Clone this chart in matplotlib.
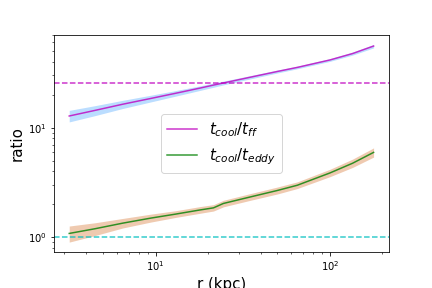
import matplotlib
matplotlib.use('Agg')
import matplotlib.pyplot as plt
import numpy as np

# radius (kpc)
r = [3.2, 4.5, 6.5, 9.4, 13.0, 18.0, 21.5, 24.5, 35.0, 50.0, 65.0, 100.0, 135.0, 178.0]

# t_cool / t_ff
ff = [12.8, 14.4, 16.4, 18.5, 20.6, 23.0, 24.5, 25.6, 28.9, 32.6, 35.5, 41.5, 47.5, 55.6]
ff_lo = [11.3, 12.9, 15.0, 17.2, 19.4, 21.9, 23.4, 24.6, 27.9, 31.6, 34.5, 40.3, 46.0, 53.5]
ff_hi = [14.4, 15.9, 17.8, 19.8, 21.8, 24.1, 25.6, 26.6, 29.9, 33.6, 36.5, 42.7, 49.0, 57.5]

# t_cool / t_eddy
ed = [1.087, 1.2, 1.35, 1.5, 1.63, 1.78, 1.86, 2.04, 2.34, 2.68, 2.99, 3.87, 4.75, 5.96]
ed_lo = [0.906, 1.04, 1.22, 1.38, 1.52, 1.66, 1.74, 1.90, 2.18, 2.49, 2.79, 3.58, 4.35, 5.4]
ed_hi = [1.27, 1.36, 1.49, 1.63, 1.75, 1.91, 1.99, 2.18, 2.51, 2.88, 3.21, 4.18, 5.18, 6.55]

# reference levels
ff_ref = 25.8
ed_ref = 1.0

plt.figure(figsize=(6, 4), dpi=72)
plt.subplots_adjust(left=0.125, right=0.9, top=0.88, bottom=0.125)

plt.fill_between(r, ff_lo, ff_hi, color='dodgerblue', alpha=0.3, lw=0)
plt.fill_between(r, ed_lo, ed_hi, color='chocolate', alpha=0.35, lw=0)
plt.plot(r, ff, color='m', alpha=0.8, lw=1.5, label=r'$t_{cool}/t_{ff}$')
plt.plot(r, ed, color='g', alpha=0.8, lw=1.5, label=r'$t_{cool}/t_{eddy}$')
plt.axhline(ff_ref, color='m', alpha=0.8, ls='--', lw=1.5)
plt.axhline(ed_ref, color='c', alpha=0.8, ls='--', lw=1.5)

plt.xscale('log')
plt.yscale('log')
plt.xlabel('r (kpc)', fontsize=15)
plt.ylabel('ratio', fontsize=15)
plt.legend(loc='center', fontsize=15)

plt.savefig('out.png', dpi=72)
